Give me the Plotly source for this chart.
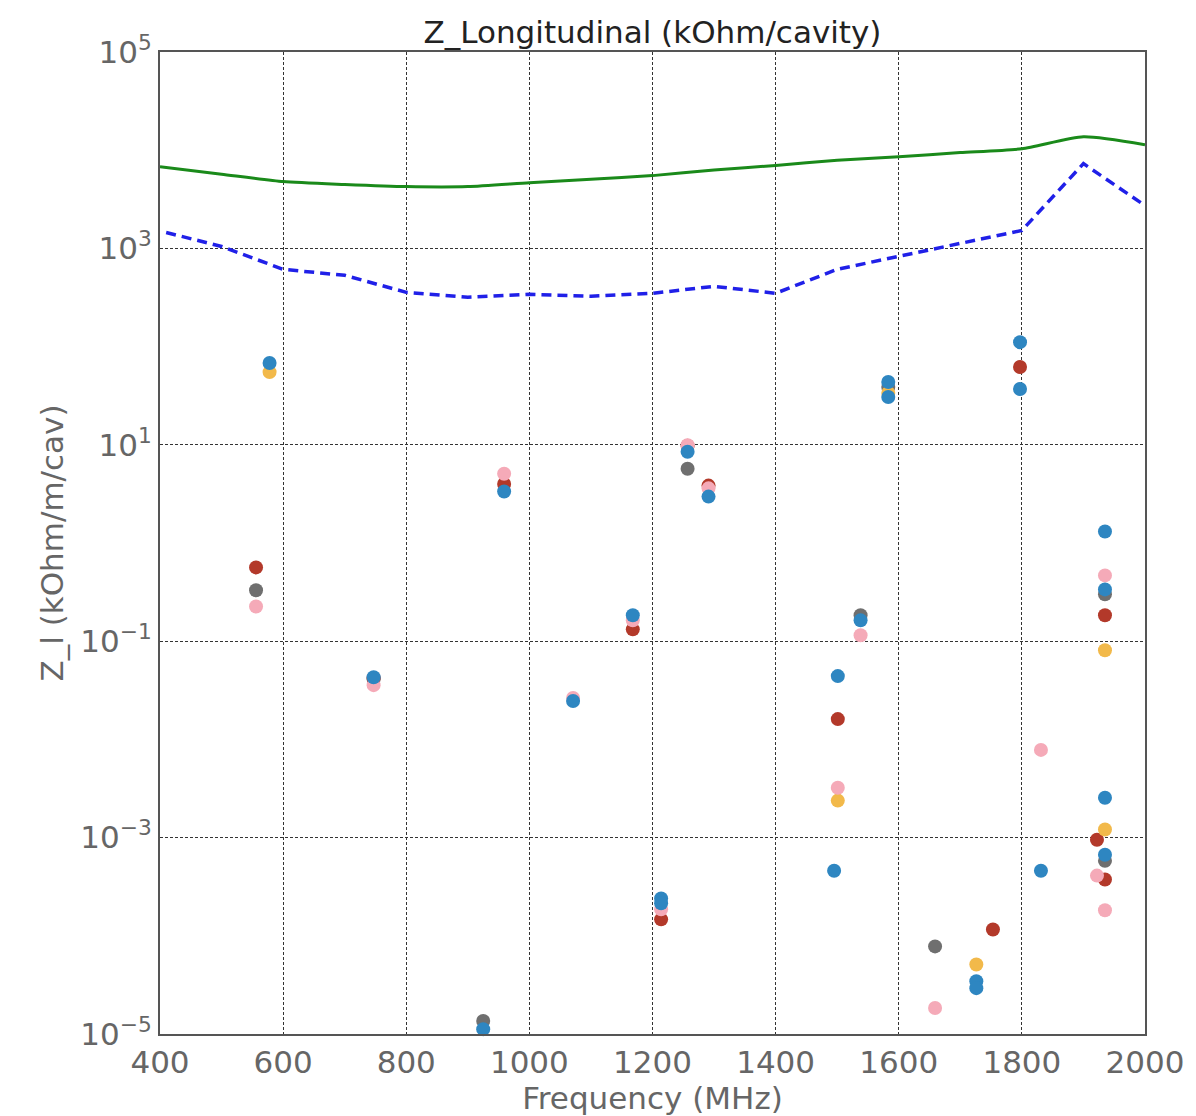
import plotly.graph_objects as go

# Threshold curves
green_f = [400, 500, 600, 700, 800, 900, 1000, 1100, 1200, 1300, 1400, 1500, 1600, 1700, 1800, 1900, 2000]
green_z = [6790, 5700, 4790, 4480, 4260, 4260, 4670, 5050, 5510, 6280, 7000, 7900, 8600, 9450, 10350, 13700, 11370]

blue_line_f = [410, 500, 600, 700, 800, 900, 1000, 1100, 1200, 1300, 1400, 1500, 1600, 1700, 1800, 1900, 2000]
blue_line_z = [1452, 1047, 612, 532, 357, 318, 341, 326, 349, 411, 349, 612, 830, 1125, 1524, 7300, 2735]

# Mode impedances per series
gray_f = [556, 747, 925, 1257, 1538, 1583, 1659, 1935, 1935]
gray_z = [0.33, 0.041, 1.36e-5, 5.7, 0.184, 38.8, 7.8e-5, 0.30, 5.8e-4]

red_f = [556, 747, 959, 1168, 1214, 1257, 1291, 1501, 1753, 1797, 1922, 1935, 1935]
red_z = [0.564, 0.042, 4.0, 0.132, 1.47e-4, 9.8, 3.84, 0.0161, 1.16e-4, 62, 9.5e-4, 0.184, 3.75e-4]

yellow_f = [578, 1501, 1583, 1726, 1935, 1935]
yellow_z = [55, 2.38e-3, 33.7, 5.1e-5, 0.081, 1.21e-3]

pink_f = [556, 747, 959, 1071, 1168, 1214, 1257, 1291, 1501, 1538, 1659, 1831, 1922, 1935, 1935]
pink_z = [0.226, 0.0357, 5.08, 0.0264, 0.163, 1.86e-4, 9.9, 3.6, 3.22e-3, 0.115, 1.84e-5, 7.82e-3, 4.1e-4, 0.468, 1.82e-4]

blue_f = [578, 747, 925, 959, 1071, 1168, 1214, 1214, 1257, 1291, 1495, 1501, 1538, 1583, 1583,
          1726, 1726, 1797, 1797, 1831, 1935, 1935, 1935, 1935]
blue_z = [68, 0.043, 1.12e-5, 3.34, 0.0246, 0.184, 2.4e-4, 2.14e-4, 8.5, 2.97, 4.6e-4, 0.0441, 0.163, 43.6, 30.7,
          3.45e-5, 2.93e-5, 111, 37, 4.6e-4, 1.31, 0.337, 2.55e-3, 6.7e-4]

x_ticks = [400, 600, 800, 1000, 1200, 1400, 1600, 1800, 2000]
y_ticks = [1e-5, 1e-3, 1e-1, 1e1, 1e3, 1e5]
y_ticktext = ["10<sup>−5</sup>", "10<sup>−3</sup>", "10<sup>−1</sup>", "10<sup>1</sup>", "10<sup>3</sup>", "10<sup>5</sup>"]

fig = go.Figure()

fig.add_trace(go.Scatter(x=green_f, y=green_z, mode="lines", line=dict(color="#1a8a1a", width=3, shape="spline", smoothing=0.6), showlegend=False))
fig.add_trace(go.Scatter(x=blue_line_f, y=blue_line_z, mode="lines", line=dict(color="#2020e8", width=3.5, dash="10px,6px"), showlegend=False))

series = [
    (gray_f, gray_z, "#6f6f6f"),
    (red_f, red_z, "#b3392a"),
    (yellow_f, yellow_z, "#f2b94a"),
    (pink_f, pink_z, "#f5aab8"),
    (blue_f, blue_z, "#2e86c1"),
]
for f, z, c in series:
    fig.add_trace(go.Scatter(x=f, y=z, mode="markers", marker=dict(color=c, size=14, line=dict(width=0)), showlegend=False, cliponaxis=False))

axis_font = dict(family="DejaVu Sans", size=31, color="#666666")
fig.update_layout(
    width=1196, height=1116,
    margin=dict(l=160, r=49, t=52, b=79),
    paper_bgcolor="white", plot_bgcolor="white",
    title=dict(text="Z_Longitudinal (kOhm/cavity)", x=0.5, xanchor="center", xref="paper", y=1, yref="paper", yanchor="bottom", pad=dict(b=9),
               font=dict(family="DejaVu Sans", size=31, color="#222222")),
    xaxis=dict(range=[400, 2000], tickvals=x_ticks, ticktext=[str(v) for v in x_ticks], tickfont=axis_font,
               title=dict(text="Frequency (MHz)", font=axis_font, standoff=2),
               showgrid=True, gridcolor="#333333", griddash="3px,2px", gridwidth=1,
               showline=True, linecolor="#555555", linewidth=2, mirror=True, ticks="", zeroline=False),
    yaxis=dict(type="log", range=[-5, 5], tickvals=y_ticks, ticktext=y_ticktext, tickfont=axis_font,
               title=dict(text="Z_l (kOhm/m/cav)", font=axis_font, standoff=8),
               showgrid=True, gridcolor="#333333", griddash="3px,2px", gridwidth=1,
               showline=True, linecolor="#555555", linewidth=2, mirror=True, ticks="", zeroline=False),
)

fig.write_html("out.html")
